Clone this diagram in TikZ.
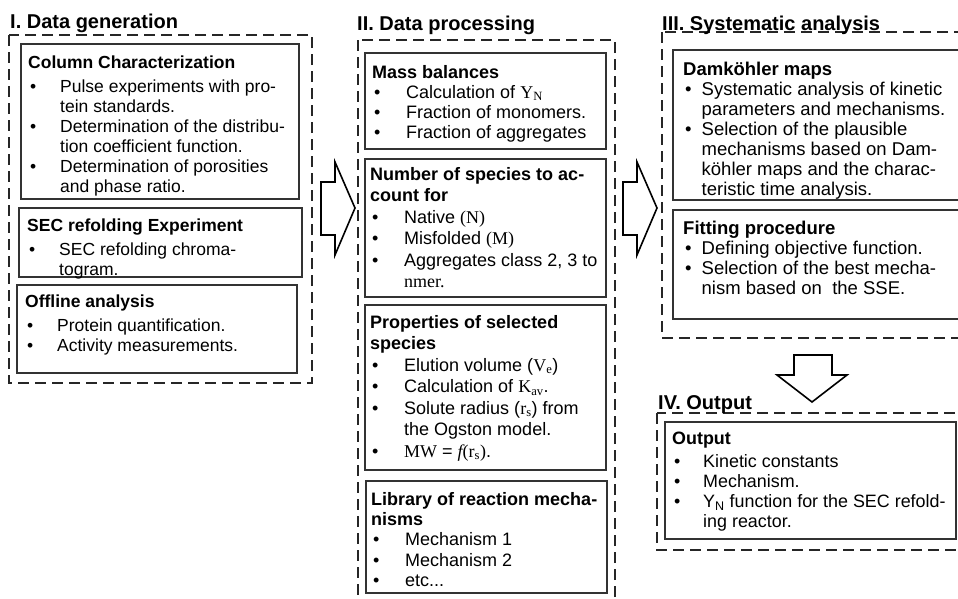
\documentclass[tikz,border=0pt]{standalone}
\usepackage{fontspec}
\setmainfont{Liberation Sans}
\newfontfamily\mth{Liberation Serif}
\usepackage{tikz}

\newlength{\bulw}
\newcommand{\bul}{\makebox[\bulw][l]{\hspace{2pt}\textbullet}}
\newcommand{\ind}{\hspace*{\bulw}}

\tikzset{
  group/.style={draw=black!85, line width=1.7pt, dash pattern=on 11pt off 6pt},
  box/.style={draw=black!80, line width=1.6pt},
  title/.style={anchor=base west, inner sep=0pt, font=\bfseries\fontsize{20}{24}\selectfont},
  txt/.style={anchor=north west, inner sep=0pt, align=left, font=\fontsize{17.5}{20}\selectfont\setlength{\bulw}{#1}},
  txt/.default=32pt,
  txtii/.style={anchor=north west, inner sep=0pt, align=left, font=\fontsize{18}{#1}\selectfont\setlength{\bulw}{34pt}},
  txtii/.default=21.5pt,
  txtiii/.style={anchor=north west, inner sep=0pt, align=left, font=\fontsize{18.5}{20}\selectfont\setlength{\bulw}{18.5pt}},
  txtiv/.style={anchor=north west, inner sep=0pt, align=left, font=\fontsize{17.9}{20}\selectfont\setlength{\bulw}{31pt}},
  blockarrow/.style={draw=black, line width=1.6pt, fill=white, line join=miter}
}

\begin{document}
\begin{tikzpicture}[x=1pt, y=-1pt]

\useasboundingbox (0,0) rectangle (958,598);
\clip (0,0) rectangle (958,598);

% I. Data generation
\draw[group] (9,35) rectangle (312,383);
\node[title] (tI) at (10,28) {I. Data generation};

\draw[box] (21,44) rectangle (299,199);
\node[txt] (colchar) at (28,56) {\textbf{Column Characterization}\\[4pt]
\bul Pulse experiments with pro-\\
\ind tein standards.\\
\bul Determination of the distribu-\\
\ind tion coefficient function.\\
\bul Determination of porosities\\
\ind and phase ratio.};

\draw[box] (19,208) rectangle (302,277);
\node[txt] (secexp) at (27,219) {\textbf{SEC refolding Experiment}\\[4pt]
\bul SEC refolding chroma-\\
\ind togram.};

\draw[box] (17,285) rectangle (297,373);
\node[txt] (offline) at (25,295) {\textbf{Offline analysis}\\[4pt]
\bul Protein quantification.\\
\bul Activity measurements.};

% arrow I -> II
\draw[blockarrow] (321,182) -- (335,182) -- (335,162) -- (355,208) -- (335,255) -- (335,235) -- (321,235) -- cycle;

% II. Data processing
\draw[group] (358,40) rectangle (615,615);
\node[title] (tII) at (357,30.5) {II. Data processing};

\draw[box] (365,53) rectangle (606,149);
\node[txtii=20pt] (massbal) at (372,65) {\textbf{Mass balances}\\
\bul Calculation of {\mth Y\textsubscript{N}}\\
\bul Fraction of monomers.\\
\bul Fraction of aggregates};

\draw[box] (365,159) rectangle (606,297);
\node[txtii] (species) at (370,167) {\textbf{Number of species to ac-}\\
\textbf{count for}\\
\bul Native {\mth(N)}\\
\bul Misfolded {\mth(M)}\\
\bul Aggregates class 2, 3 to\\
\ind{\mth nmer.}};

\draw[box] (365,305) rectangle (606,470);
\node[txtii] (props) at (370,315) {\textbf{Properties of selected}\\
\textbf{species}\\
\bul Elution volume ({\mth V\textsubscript{e}})\\
\bul Calculation of {\mth K\textsubscript{av}}.\\
\bul Solute radius ({\mth r\textsubscript{s}}) from\\
\ind the Ogston model.\\
\bul {\mth MW} = {\mth\itshape f}{\mth(r\textsubscript{s})}.};

\draw[box] (366,481) rectangle (607,593);
\node[txtii=20.3pt] (library) at (371,492) {\textbf{Library of reaction mecha-}\\
\textbf{nisms}\\
\bul Mechanism 1\\
\bul Mechanism 2\\
\bul etc...};

% arrow II -> III
\draw[blockarrow] (623,182) -- (637,182) -- (637,162) -- (657,208) -- (637,255) -- (637,235) -- (623,235) -- cycle;

% III. Systematic analysis
\draw[group] (662,32) rectangle (975,338);
\node[title] (tIII) at (662,30) {III. Systematic analysis};

\draw[box] (673,50) rectangle (975,200);
\node[txtiii] (damk) at (683,62) {\textbf{Damköhler maps}\\
\bul Systematic analysis of kinetic\\
\ind parameters and mechanisms.\\
\bul Selection of the plausible\\
\ind mechanisms based on Dam-\\
\ind köhler maps and the charac-\\
\ind teristic time analysis.};

\draw[box] (673,210) rectangle (975,319);
\node[txtiii] (fitting) at (683,221) {\textbf{Fitting procedure}\\
\bul Defining objective function.\\
\bul Selection of the best mecha-\\
\ind nism based on\ \ the SSE.};

% arrow III -> IV
\draw[blockarrow] (794,355) -- (832,355) -- (832,375) -- (847,375) -- (812,402) -- (777,375) -- (794,375) -- cycle;

% IV. Output
\draw[group] (657,413) rectangle (975,550);
\node[title] (tIV) at (658,409) {IV. Output};

\draw[box] (665,422) rectangle (956,539);
\node[txtiv] (output) at (672,432) {\textbf{Output}\\[3pt]
\bul Kinetic constants\\
\bul Mechanism.\\
\bul Y\textsubscript{N} function for the SEC refold-\\
\ind ing reactor.};

\end{tikzpicture}
\end{document}
